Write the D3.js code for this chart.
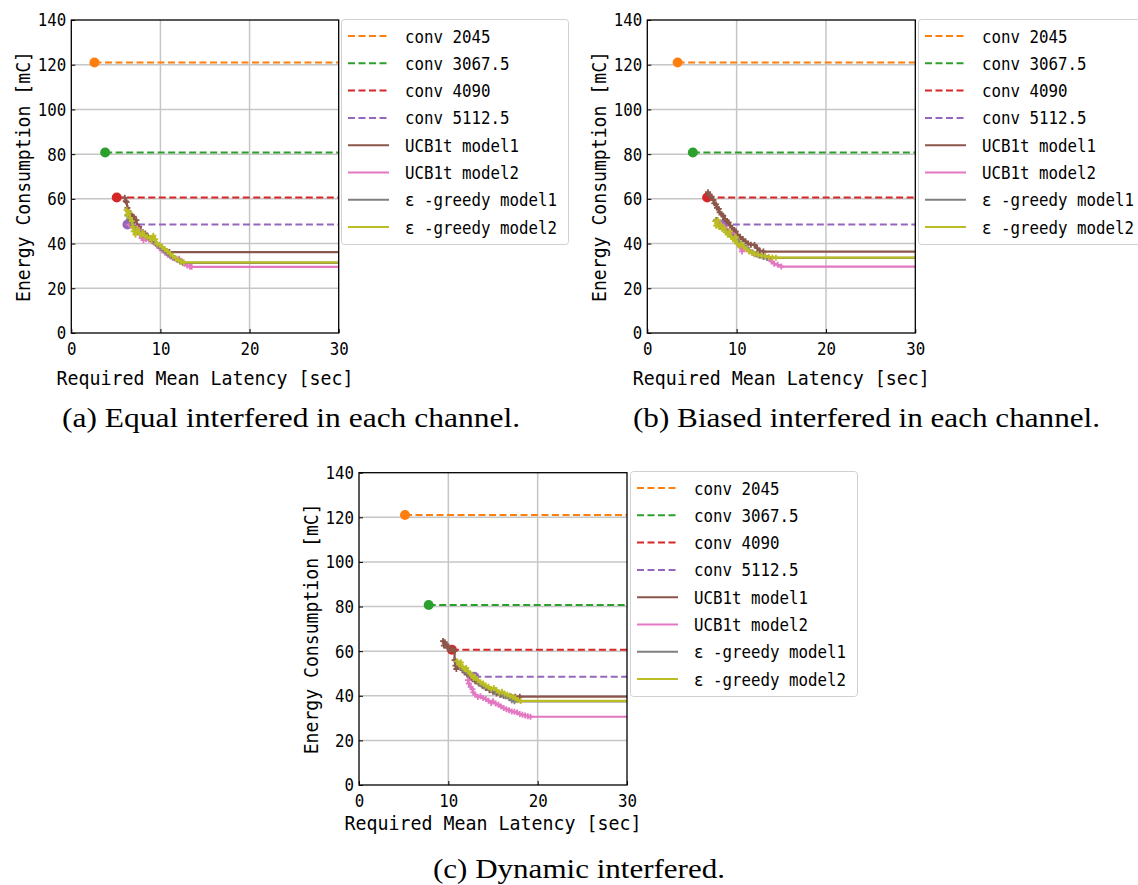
<!DOCTYPE html>
<html><head><meta charset="utf-8">
<script src="https://cdn.jsdelivr.net/npm/d3@7"></script>
<style>body{margin:0;background:#fff}svg{display:block}</style>
</head><body>
<svg id="chart" width="1138" height="885"></svg>
<script>
// ---------- data ----------
const seriesNames = ["conv 2045","conv 3067.5","conv 4090","conv 5112.5","UCB1t model1","UCB1t model2","ε -greedy model1","ε -greedy model2"];
const seriesColors = ["#ff7f0e","#2ca02c","#d62728","#9467bd","#8c564b","#e377c2","#7f7f7f","#bcbd22"];
const xTicks = [0,10,20,30];
const yTicks = [0,20,40,60,80,100,120,140];
const xLabel = "Required Mean Latency [sec]";
const yLabel = "Energy Consumption [mC]";
const captions = ["(a) Equal interfered in each channel.","(b) Biased interfered in each channel.","(c) Dynamic interfered."];

const convEnergy = [121, 80.7, 60.6, 48.5];
const convLatencyA = [2.6, 3.8, 5.1, 6.3];
const convLatencyB = [3.4, 5.1, 6.7, 8.4];
const convLatencyC = [5.15, 7.8, 10.4, 12.9];

// panel (a)
const ucb1A = [[6.0,60.5],[6.1,59.0],[6.2,58.5],[6.3,56.0],[6.4,54.5],[6.6,53.0],[6.8,52.5],[7.0,52.0],[7.1,50.0],[7.3,50.5],[7.4,48.0],[7.6,47.5],[7.8,46.0],[8.0,45.0],[8.3,44.5],[8.6,43.0],[8.9,42.0],[9.2,41.0],[9.5,40.0],[9.8,39.0],[10.1,38.0],[10.4,37.2],[10.7,36.6],[11.0,36.2]];
const ucb2A = [[6.5,48.5],[6.8,48.0],[7.1,47.5],[7.4,47.0],[7.6,46.0],[7.7,44.0],[7.9,42.5],[8.1,41.5],[8.4,42.0],[8.7,41.8],[9.0,41.0],[9.3,40.5],[9.6,39.2],[9.9,38.0],[10.2,37.0],[10.5,36.0],[10.8,35.0],[11.1,34.2],[11.4,33.5],[11.8,33.0],[12.1,33.2],[12.4,32.0],[12.7,31.0],[13.0,30.2],[13.3,29.8],[13.5,29.6]];
const eps1A = [[6.3,52.5],[6.5,51.0],[6.7,49.5],[6.9,48.0],[7.2,46.5],[7.5,45.5],[7.8,44.5],[8.1,44.0],[8.5,43.0],[8.9,42.0],[9.2,41.0],[9.5,40.0],[9.8,39.0],[10.1,38.0],[10.4,37.0],[10.7,36.0],[11.0,35.0],[11.3,34.2],[11.6,33.4],[11.9,32.8],[12.2,32.0],[12.5,31.4]];
const eps2A = [[6.2,55.0],[6.3,53.0],[6.5,54.0],[6.6,51.5],[6.8,50.0],[6.9,47.5],[7.0,45.5],[7.2,44.0],[7.4,46.5],[7.6,45.0],[7.8,44.0],[8.0,45.0],[8.2,43.5],[8.5,43.0],[8.8,42.5],[9.0,41.5],[9.2,43.5],[9.4,42.0],[9.6,40.0],[9.9,39.5],[10.2,38.5],[10.5,37.5],[10.8,36.5],[11.1,35.5],[11.4,34.5],[11.7,33.5],[12.0,32.5],[12.3,32.0],[12.6,31.6]];

// panel (b)
const ucb1B = [[6.8,63.0],[6.9,62.0],[7.0,61.5],[7.2,61.0],[7.4,59.5],[7.5,58.0],[7.7,57.5],[7.8,56.0],[8.0,55.5],[8.1,54.0],[8.3,53.0],[8.5,52.5],[8.7,51.0],[8.9,50.0],[9.1,49.5],[9.3,48.0],[9.5,47.0],[9.7,46.0],[9.9,45.5],[10.1,44.0],[10.4,43.0],[10.7,42.0],[11.0,41.0],[11.3,40.0],[11.6,39.5],[12.0,39.4],[12.3,38.0],[12.6,36.8],[13.0,36.4]];
const ucb2B = [[8.0,49.5],[8.3,48.5],[8.6,47.5],[8.9,46.5],[9.2,45.5],[9.5,44.5],[9.8,43.0],[10.0,41.5],[10.2,40.0],[10.4,38.5],[10.6,36.5],[10.8,38.0],[11.1,37.5],[11.4,37.0],[11.7,36.0],[12.0,35.2],[12.4,34.8],[12.8,34.5],[13.2,34.2],[13.6,33.5],[13.9,32.0],[14.2,31.0],[14.6,30.5],[15.0,29.7]];
const eps1B = [[7.7,50.5],[7.9,49.0],[8.1,48.0],[8.4,47.0],[8.7,46.0],[9.0,45.0],[9.3,44.0],[9.6,43.0],[9.9,42.0],[10.2,41.0],[10.5,40.0],[10.8,39.0],[11.1,38.0],[11.4,37.0],[11.8,36.0],[12.2,35.2],[12.6,34.5],[13.0,34.0],[13.4,33.6]];
const eps2B = [[7.6,50.0],[7.7,48.0],[7.9,50.5],[8.0,47.5],[8.2,48.5],[8.4,46.5],[8.6,47.0],[8.8,45.0],[9.0,44.0],[9.2,45.5],[9.4,43.0],[9.6,42.0],[9.8,41.0],[9.9,43.0],[10.1,40.0],[10.3,39.0],[10.5,40.0],[10.8,38.5],[11.1,37.5],[11.4,36.5],[11.7,36.0],[12.0,35.5],[12.4,35.0],[12.8,34.6],[13.2,34.3],[13.6,34.0],[14.0,33.8],[14.4,33.7]];

// panel (c)
const ucb1C = [[9.4,64.5],[9.5,62.5],[9.6,64.0],[9.8,63.0],[9.9,61.5],[10.0,62.0],[10.2,60.5],[10.5,60.8],[10.7,60.0],[10.7,56.0],[10.8,53.5],[10.9,52.0],[11.1,53.5],[11.4,53.0],[11.6,51.5],[11.8,50.5],[12.1,49.5],[12.4,48.5],[12.7,47.5],[13.0,46.5],[13.4,45.5],[13.8,44.5],[14.2,43.5],[14.6,42.5],[15.0,41.8],[15.4,41.0],[15.8,40.5],[16.2,40.0],[16.6,39.8],[17.0,39.7],[17.5,39.6],[18.0,39.6]];
const ucb2C = [[12.2,47.0],[12.3,45.5],[12.5,44.0],[12.7,43.0],[12.8,41.5],[13.0,40.5],[13.3,39.5],[13.6,39.8],[13.9,39.0],[14.2,38.5],[14.5,37.8],[14.8,36.8],[15.0,37.5],[15.3,36.5],[15.6,36.0],[15.9,35.2],[16.2,34.5],[16.5,34.0],[16.8,33.5],[17.1,33.0],[17.4,32.8],[17.7,32.5],[18.0,31.8],[18.3,31.5],[18.6,31.2],[18.9,30.8],[19.2,30.6]];
const eps1C = [[11.0,55.0],[11.3,53.5],[11.6,52.0],[11.9,51.0],[12.2,50.0],[12.5,49.0],[12.8,48.0],[13.1,47.0],[13.4,46.0],[13.7,45.0],[14.0,44.2],[14.4,43.5],[14.8,42.8],[15.2,42.0],[15.6,41.2],[16.0,40.5],[16.4,39.8],[16.8,39.0],[17.1,38.0],[17.4,37.5]];
const eps2C = [[11.0,55.5],[11.2,54.0],[11.4,55.0],[11.6,53.0],[11.8,52.0],[12.0,52.5],[12.2,51.0],[12.4,50.0],[12.6,49.5],[12.8,48.0],[13.0,48.5],[13.3,47.0],[13.6,46.0],[13.9,45.5],[14.2,44.5],[14.5,44.0],[14.8,43.0],[15.1,43.5],[15.4,42.5],[15.7,41.5],[16.0,41.8],[16.3,41.0],[16.6,40.5],[16.9,40.0],[17.2,39.5],[17.5,39.0],[17.8,38.0],[18.1,37.7]];

// ---------- layout ----------
const panels = [
  {left:71.3, top:20, w:267.4, h:313, conv:convLatencyA, curves:[ucb1A,ucb2A,eps1A,eps2A], cap:captions[0], capX:291, capY:427, capW:458, xlabY:385, ylabX:30, legX:341, legY:19},
  {left:647.3, top:20, w:268, h:313, conv:convLatencyB, curves:[ucb1B,ucb2B,eps1B,eps2B], cap:captions[1], capX:866.5, capY:427, capW:467, xlabY:385, ylabX:606, legX:918, legY:19},
  {left:359, top:472.7, w:268, h:312.3, conv:convLatencyC, curves:[ucb1C,ucb2C,eps1C,eps2C], cap:captions[2], capX:579, capY:878, capW:292, xlabY:830, ylabX:318, legX:630, legY:471}
];

const svg = d3.select("#chart");
const mono = "'DejaVu Sans Mono', 'Liberation Mono', monospace";

panels.forEach((p, pi) => {
  const x = d3.scaleLinear().domain([0,30]).range([p.left, p.left + p.w]);
  const y = d3.scaleLinear().domain([0,140]).range([p.top + p.h, p.top]);
  const g = svg.append("g");
  const clipId = "clip" + pi;
  svg.append("clipPath").attr("id", clipId).append("rect")
    .attr("x", p.left).attr("y", p.top - 8).attr("width", p.w).attr("height", p.h + 8);

  // grid
  g.append("g").selectAll("line").data(xTicks.slice(1,-1)).join("line")
    .attr("x1", d => x(d)).attr("x2", d => x(d)).attr("y1", p.top).attr("y2", p.top + p.h)
    .attr("stroke", "#c6c6c6").attr("stroke-width", 1.5);
  g.append("g").selectAll("line").data(yTicks.slice(1,-1)).join("line")
    .attr("y1", d => y(d)).attr("y2", d => y(d)).attr("x1", p.left).attr("x2", p.left + p.w)
    .attr("stroke", "#c6c6c6").attr("stroke-width", 1.5);

  // axes (inward ticks)
  const xAxis = d3.axisBottom(x).tickValues(xTicks).tickSize(-4).tickPadding(6).tickFormat(d3.format("d"));
  const yAxis = d3.axisLeft(y).tickValues(yTicks).tickSize(-4).tickPadding(8).tickFormat(d3.format("d"));
  const gx = g.append("g").attr("transform", `translate(0,${p.top + p.h})`).call(xAxis);
  const gy = g.append("g").attr("transform", `translate(${p.left},0)`).call(yAxis);
  [gx, gy].forEach(a => {
    a.select(".domain").remove();
    a.selectAll("line").attr("stroke", "#000").attr("stroke-width", 1);
    a.selectAll("text").attr("font-family", mono).attr("font-size", 18.5).attr("fill", "#000")
      .attr("textLength", d => String(d).length * 9.5).attr("lengthAdjust", "spacingAndGlyphs");
  });
  gx.selectAll("text").attr("dy", "0.88em");
  gy.selectAll("text").attr("dx", 3);

  const plot = g.append("g").attr("clip-path", `url(#${clipId})`);

  // conventional (dashed) lines with start dot
  p.conv.forEach((cx, i) => {
    const pts = [[cx, convEnergy[i]], [x.domain()[1], convEnergy[i]]];
    plot.append("path").attr("d", d3.line().x(d => x(d[0])).y(d => y(d[1]))(pts))
      .attr("fill", "none").attr("stroke", seriesColors[i]).attr("stroke-width", 2)
      .attr("stroke-dasharray", "7,3.5");
    plot.append("circle").attr("cx", x(cx)).attr("cy", y(convEnergy[i])).attr("r", 5)
      .attr("fill", seriesColors[i]);
  });

  // bandit curves
  p.curves.forEach((data, k) => {
    const col = seriesColors[4 + k];
    const last = data[data.length - 1];
    const pts = data.concat([[x.domain()[1], last[1]]]);
    plot.append("path").attr("d", d3.line().x(d => x(d[0])).y(d => y(d[1]))(pts))
      .attr("fill", "none").attr("stroke", col).attr("stroke-width", 2.2).attr("stroke-linejoin", "round");
    plot.append("path").attr("d", data.map(d => {
        const px = x(d[0]), py = y(d[1]), s = 3;
        return `M${px - s},${py}H${px + s}M${px},${py - s}V${py + s}`;
      }).join(""))
      .attr("stroke", col).attr("stroke-width", 1.8).attr("fill", "none");
  });

  // frame
  g.append("rect").attr("x", p.left).attr("y", p.top).attr("width", p.w).attr("height", p.h)
    .attr("fill", "none").attr("stroke", "#000").attr("stroke-width", 1.3);

  // axis labels
  g.append("text").attr("x", p.left + p.w / 2).attr("y", p.xlabY).attr("text-anchor", "middle")
    .attr("font-family", mono).attr("font-size", 20).attr("textLength", 297).attr("lengthAdjust", "spacingAndGlyphs")
    .text(xLabel);
  g.append("text").attr("transform", `translate(${p.ylabX},${p.top + p.h / 2}) rotate(-90)`).attr("text-anchor", "middle")
    .attr("font-family", mono).attr("font-size", 20).attr("textLength", 251).attr("lengthAdjust", "spacingAndGlyphs")
    .text(yLabel);

  // legend
  const lg = svg.append("g").attr("transform", `translate(${p.legX},${p.legY})`);
  lg.append("rect").attr("x", 0.5).attr("y", 0.5).attr("width", 227).attr("height", 225).attr("rx", 3)
    .attr("fill", "rgba(255,255,255,0.85)").attr("stroke", "#d0d0d0").attr("stroke-width", 1);
  seriesNames.forEach((name, i) => {
    const cy = 17 + i * 27.3;
    lg.append("line").attr("x1", 7).attr("x2", 48).attr("y1", cy).attr("y2", cy)
      .attr("stroke", seriesColors[i]).attr("stroke-width", 2)
      .attr("stroke-dasharray", i < 4 ? "7,3.5" : null);
    lg.append("text").attr("x", 64).attr("y", cy + 6.5).attr("font-family", mono).attr("font-size", 17.5)
      .attr("fill", "#000").attr("textLength", name.length * 9.5).attr("lengthAdjust", "spacingAndGlyphs")
      .text(name);
  });

  // caption
  svg.append("text").attr("x", p.capX).attr("y", p.capY).attr("text-anchor", "middle")
    .attr("font-family", "'Liberation Serif', 'DejaVu Serif', serif").attr("font-size", 27)
    .attr("textLength", p.capW).attr("lengthAdjust", "spacingAndGlyphs").text(p.cap);
});
</script>
</body></html>
